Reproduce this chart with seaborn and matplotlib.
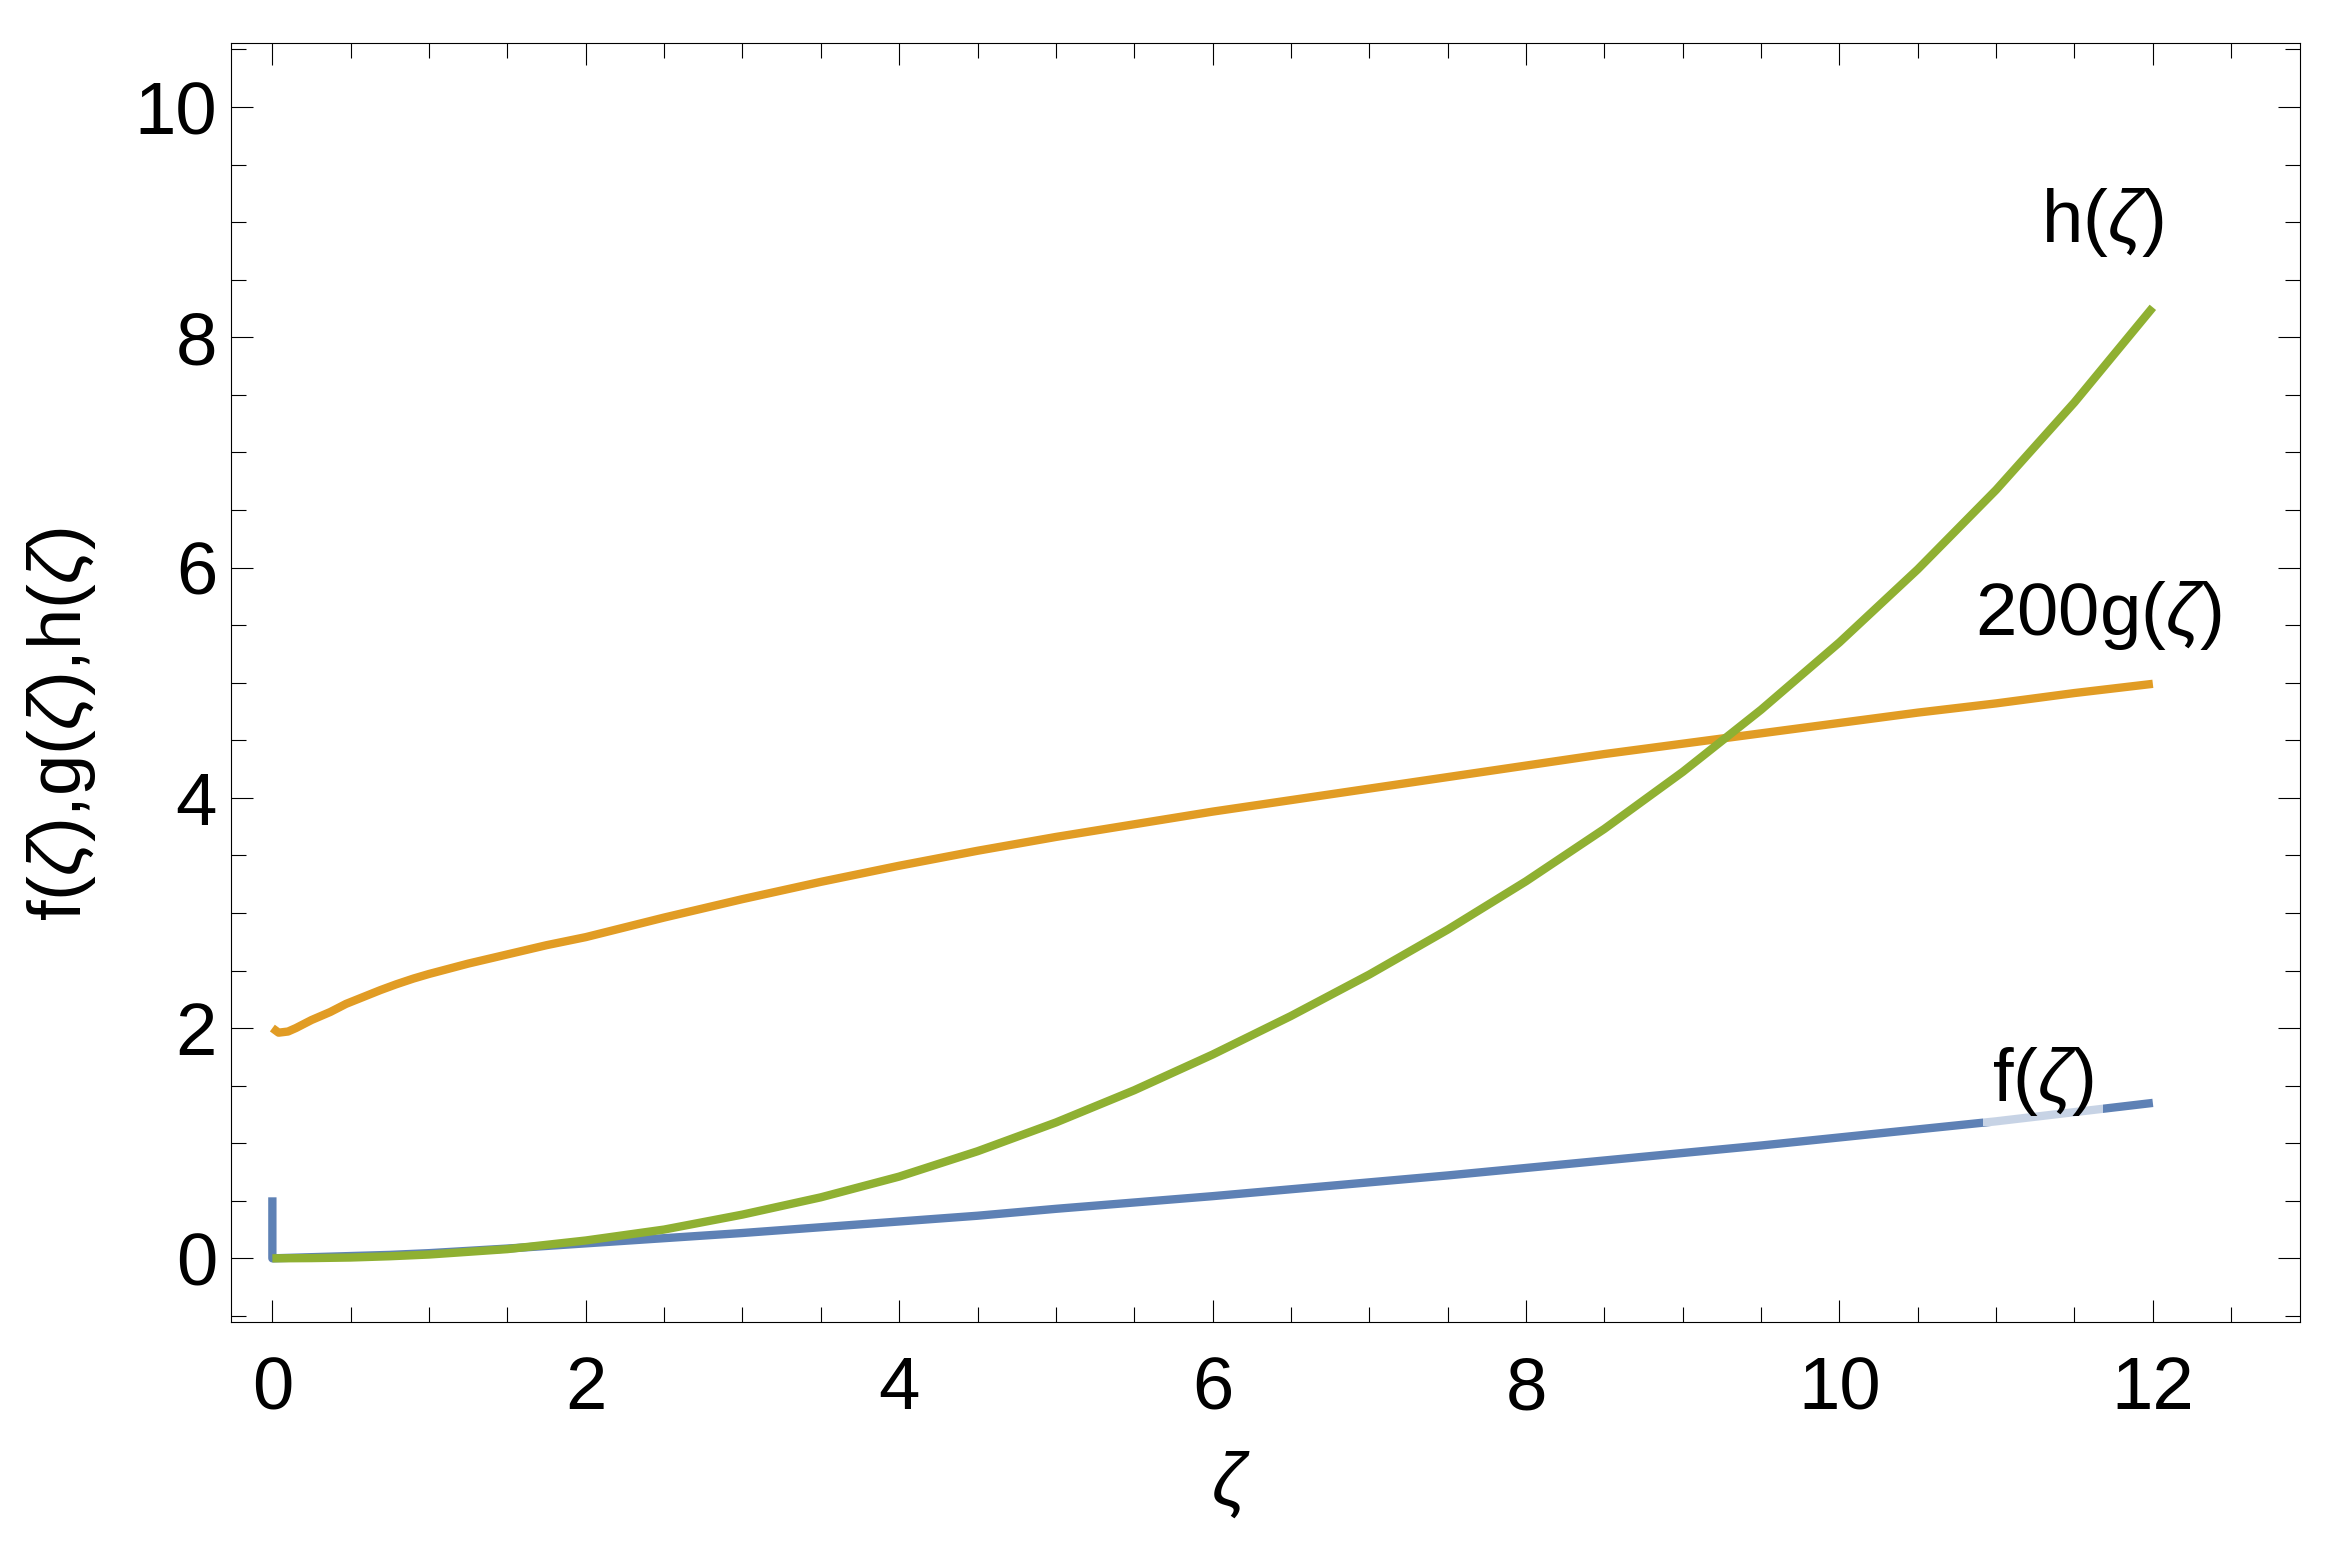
import matplotlib
matplotlib.use("Agg")
import matplotlib.pyplot as plt
import seaborn as sns
from matplotlib.ticker import MultipleLocator

# ---- data ----
zeta_f = [0.0, 0.0, 0.25, 0.5, 0.75, 1.0, 1.5, 2.0, 2.5, 3.0, 3.5, 4.0, 4.5, 5.0, 5.5,
          6.0, 6.5, 7.0, 7.5, 8.0, 8.5, 9.0, 9.5, 10.0, 10.5, 11.0, 11.5, 12.0]
f_vals = [0.53, 0.0, 0.01, 0.02, 0.03, 0.045, 0.085, 0.13, 0.175, 0.22, 0.27, 0.32, 0.37,
          0.43, 0.485, 0.54, 0.60, 0.66, 0.72, 0.785, 0.85, 0.915, 0.98, 1.05, 1.12,
          1.19, 1.27, 1.35]

zeta_g = [0.0, 0.04, 0.1, 0.15, 0.25, 0.37, 0.47, 0.58, 0.69, 0.79, 0.9, 1.0, 1.25, 1.5,
          1.75, 2.0, 2.5, 3.0, 3.5, 4.0, 4.5, 5.0, 5.5, 6.0, 6.5, 7.0, 7.5, 8.0, 8.5,
          9.0, 9.5, 10.0, 10.5, 11.0, 11.5, 12.0]
g200_vals = [2.00, 1.96, 1.97, 2.00, 2.07, 2.14, 2.21, 2.27, 2.33, 2.38, 2.43, 2.47,
             2.56, 2.64, 2.72, 2.79, 2.96, 3.12, 3.27, 3.41, 3.54, 3.66, 3.77, 3.88,
             3.98, 4.08, 4.18, 4.28, 4.38, 4.47, 4.56, 4.65, 4.74, 4.82, 4.91, 4.99]

zeta_h = [0.0, 0.25, 0.5, 0.75, 1.0, 1.5, 2.0, 2.5, 3.0, 3.5, 4.0, 4.5, 5.0, 5.5, 6.0,
          6.5, 7.0, 7.5, 8.0, 8.5, 9.0, 9.5, 10.0, 10.5, 11.0, 11.5, 12.0]
h_vals = [0.0, 0.002, 0.007, 0.018, 0.033, 0.08, 0.155, 0.25, 0.38, 0.53, 0.71, 0.93,
          1.18, 1.46, 1.77, 2.105, 2.465, 2.855, 3.275, 3.73, 4.225, 4.765, 5.35, 5.985,
          6.675, 7.435, 8.26]

curve_labels = [r"f($\zeta$)", r"200g($\zeta$)", r"h($\zeta$)"]
label_x = [11.30, 11.65, 11.68]
label_y = [1.54, 5.58, 9.00]

x_ticks = [0, 2, 4, 6, 8, 10, 12]
y_ticks = [0, 2, 4, 6, 8, 10]
x_label = r"$\zeta$"
y_label = r"f($\zeta$),g($\zeta$),h($\zeta$)"

# ---- style ----
sns.set_style("ticks")
plt.rcParams['font.family'] = ['Liberation Sans', 'DejaVu Sans']
plt.rcParams['mathtext.fontset'] = 'custom'
plt.rcParams['mathtext.rm'] = 'Liberation Sans'
plt.rcParams['mathtext.it'] = 'Liberation Sans:italic'
plt.rcParams['text.color'] = 'black'
plt.rcParams['axes.labelcolor'] = 'black'
plt.rcParams['xtick.color'] = 'black'
plt.rcParams['ytick.color'] = 'black'

BLUE = "#5E81B5"
ORANGE = "#E19C24"
GREEN = "#8FB032"
FS = 53.6
W, H = 2339, 1553

fig = plt.figure(figsize=(W / 100, H / 100), dpi=100)
ax = fig.add_axes([231 / W, 1 - 1322 / H, (2300 - 231) / W, (1322 - 43) / H])

lw = 6.0
sns.lineplot(x=zeta_f, y=f_vals, ax=ax, color=BLUE, lw=lw, sort=False,
             estimator=None, solid_capstyle='butt')
sns.lineplot(x=zeta_g, y=g200_vals, ax=ax, color=ORANGE, lw=lw, sort=False,
             estimator=None, solid_capstyle='butt')
sns.lineplot(x=zeta_h, y=h_vals, ax=ax, color=GREEN, lw=lw, sort=False,
             estimator=None, solid_capstyle='butt')

for i, (txt, lx, ly) in enumerate(zip(curve_labels, label_x, label_y)):
    kw = {}
    if i == 0:
        kw['bbox'] = dict(boxstyle='square,pad=0.12', fc='white', ec='none', alpha=0.66)
    ax.text(lx, ly, txt, ha='center', va='center', fontsize=FS, color='black',
            zorder=5, **kw)

ax.set_xlim(-0.264, 12.939)
ax.set_ylim(-0.553, 10.556)
ax.set_xticks(x_ticks)
ax.set_yticks(y_ticks)
ax.xaxis.set_minor_locator(MultipleLocator(0.5))
ax.yaxis.set_minor_locator(MultipleLocator(0.5))
ax.tick_params(which='both', direction='in', top=True, right=True,
               labeltop=False, labelright=False, width=0.8, color='black',
               labelcolor='black')
ax.tick_params(which='major', length=16)
ax.tick_params(which='minor', length=11)
ax.tick_params(axis='x', labelsize=FS, pad=24)
ax.tick_params(axis='y', labelsize=FS, pad=10)
for sp in ax.spines.values():
    sp.set_visible(True)
    sp.set_color('black')
    sp.set_linewidth(0.8)

ax.set_xlabel(x_label, fontsize=FS, color='black')
ax.set_ylabel(y_label, fontsize=FS, color='black')
ax.xaxis.set_label_coords(0.483, -0.127)
ax.yaxis.set_label_coords(-0.0817, 0.468)
ax.xaxis.label.set_va('center')
ax.yaxis.label.set_va('center')

fig.savefig("out.png", dpi=100)
